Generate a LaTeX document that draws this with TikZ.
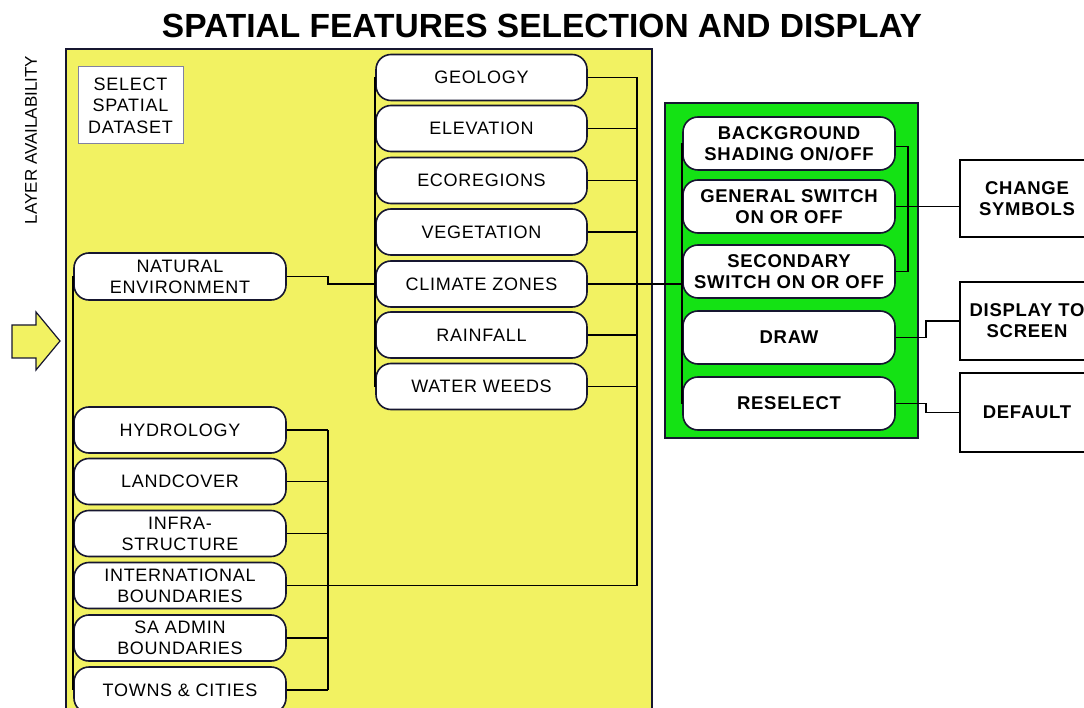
\documentclass[tikz,border=0pt]{standalone}
\usepackage{fontspec}
\setmainfont{Liberation Sans}
\newfontfamily\nodefont{Liberation Sans}[LetterSpace=4]
\definecolor{ylw}{RGB}{242,242,98}
\definecolor{grn}{RGB}{20,226,20}
\definecolor{edge}{RGB}{22,22,48}
\definecolor{selborder}{RGB}{130,130,160}
\begin{document}
\begin{tikzpicture}[x=1pt,y=-1pt,
  pill/.style={draw=edge,line width=1.6pt,fill=white,rounded corners=15pt,
    minimum width=212pt,minimum height=46pt,inner sep=0pt,align=center,
    font=\nodefont\fontsize{18}{21}\selectfont},
  gpill/.style={pill,minimum height=53pt,
    font=\nodefont\bfseries\fontsize{18.5}{21}\selectfont},
  sqbox/.style={draw=black,line width=1.6pt,fill=white,minimum width=134pt,
    minimum height=78pt,inner sep=0pt,align=center,
    font=\nodefont\bfseries\fontsize{18.5}{21}\selectfont},
  conn/.style={draw=black,line width=1.5pt},
  frame/.style={draw=edge,line width=2.2pt}]
\useasboundingbox (0,0) rectangle (1084,708);
\clip (0,0) rectangle (1084,708);

% title and side label
\node[font=\bfseries\fontsize{33.5}{38}\selectfont] (title) at (542,26)
  {SPATIAL FEATURES SELECTION AND DISPLAY};
\node[rotate=90,font=\fontsize{17}{19}\selectfont] (layer) at (31,140)
  {LAYER AVAILABILITY};

% input arrow
\draw[draw=edge,line width=1.2pt,fill=ylw]
  (12,325) -- (36,325) -- (36,312) -- (60,341) -- (36,370) -- (36,358) -- (12,358) -- cycle;

% panels
\draw[frame,fill=ylw] (66,49) rectangle (652,730);
\draw[frame,fill=grn] (665,103) rectangle (918,438);

\node[draw=selborder,line width=1pt,fill=white,minimum width=105pt,minimum height=77pt,
  inner sep=0pt,align=center,font=\nodefont\fontsize{18}{21.5}\selectfont] (sel) at (130.5,105.5)
  {SELECT\\SPATIAL\\DATASET};

% coordinates of buses
\coordinate (mbus) at (637,0);
\coordinate (lbus) at (328,0);
\coordinate (gbus) at (908,0);

% left column nodes
\node[pill,minimum height=47pt] (nat) at (180,276.5) {NATURAL\\ENVIRONMENT};
\node[pill] (hyd) at (180,430) {HYDROLOGY};
\node[pill] (land) at (180,481.5) {LANDCOVER};
\node[pill] (infra) at (180,533.5) {INFRA-\\STRUCTURE};
\node[pill] (intl) at (180,585.5) {INTERNATIONAL\\BOUNDARIES};
\node[pill] (saad) at (180,638) {SA ADMIN\\BOUNDARIES};
\node[pill] (towns) at (180,690) {TOWNS \& CITIES};

% middle column nodes
\node[pill,minimum width=211pt] (geo) at (481.5,77.5) {GEOLOGY};
\node[pill,minimum width=211pt] (ele) at (481.5,128.5) {ELEVATION};
\node[pill,minimum width=211pt] (eco) at (481.5,180.5) {ECOREGIONS};
\node[pill,minimum width=211pt] (veg) at (481.5,232) {VEGETATION};
\node[pill,minimum width=211pt] (clim) at (481.5,284) {CLIMATE ZONES};
\node[pill,minimum width=211pt] (rain) at (481.5,335) {RAINFALL};
\node[pill,minimum width=211pt] (weed) at (481.5,386.5) {WATER WEEDS};

% green column nodes
\node[gpill] (bg) at (789,143.5) {BACKGROUND\\SHADING ON/OFF};
\node[gpill] (gen) at (789,206.5) {GENERAL SWITCH\\ON OR OFF};
\node[gpill] (sec) at (789,271.5) {SECONDARY\\SWITCH ON OR OFF};
\node[gpill] (drw) at (789,337.5) {DRAW};
\node[gpill] (resel) at (789,403.5) {RESELECT};

% right boxes
\node[sqbox,minimum height=77pt] (chg) at (1027,198.5) {CHANGE\\SYMBOLS};
\node[sqbox] (disp) at (1027,321) {DISPLAY TO\\SCREEN};
\node[sqbox,minimum height=79pt] (dflt) at (1027,412.5) {DEFAULT};

% left-side buses along node edges
\draw[conn] (nat.west) -- (towns.west);
\draw[conn] (geo.west) -- (weed.west);
\draw[conn] (bg.west) -- (resel.west);

% natural environment to climate zones
\draw[conn] (nat.east) -- ++(41,0) |- (clim.west);

% middle column to bus
\foreach \n in {geo,ele,eco,veg,rain,weed}
  \draw[conn] (\n.east) -- (\n.east -| mbus);
\draw[conn] (geo.east -| mbus) -- (intl.east -| mbus);
\draw[conn] (intl.east) -- (intl.east -| mbus);

% lower left bracket
\foreach \n in {hyd,land,infra,saad,towns}
  \draw[conn] (\n.east) -- (\n.east -| lbus);
\draw[conn] (hyd.east -| lbus) -- (towns.east -| lbus);

% climate zones to secondary switch
\draw[conn] (clim.east) -- (clim.east -| sec.west);

% green right bracket
\draw[conn] ([yshift=-3pt]bg.east) -- ([yshift=-3pt]bg.east -| gbus) -- (sec.east -| gbus) -- (sec.east);
\draw[conn] (gen.east) -- (gen.east -| chg.west);
\draw[conn] (drw.east) -- ++(30,0) |- (disp.west);
\draw[conn] (resel.east) -- ++(30,0) |- (dflt.west);
\end{tikzpicture}
\end{document}
